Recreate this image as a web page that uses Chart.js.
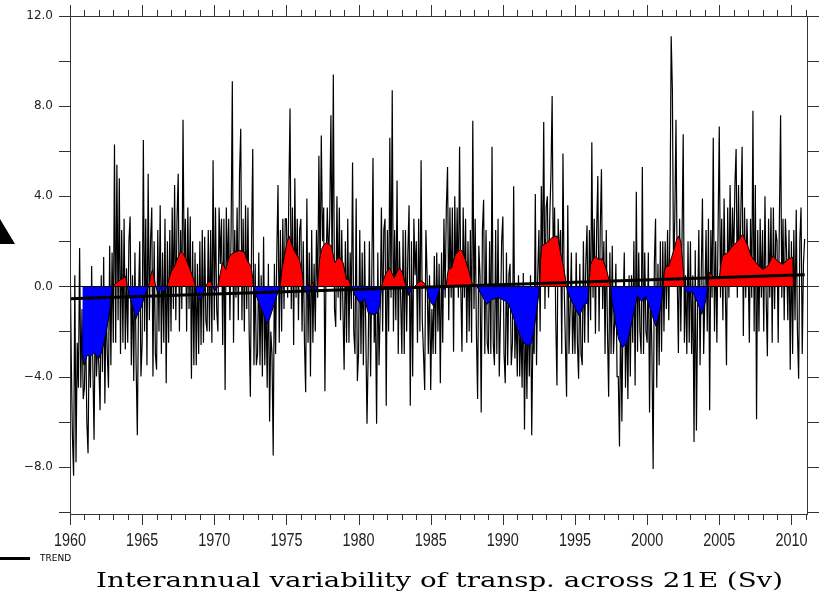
<!DOCTYPE html>
<html>
<head>
<meta charset="utf-8">
<script src="https://cdn.jsdelivr.net/npm/chart.js@4.4.0/dist/chart.umd.min.js"></script>
<style>
  html, body { margin: 0; padding: 0; background: #fff; }
  #wrap { width: 836px; height: 596px; }
</style>
</head>
<body>
<div id="wrap"><canvas id="chart" width="836" height="596"></canvas></div>
<script>
// monthly transport anomaly (Sv), Jan 1960 .. Dec 2010
const startYear = 1960;
const transport = [
  2.0, -3.0, -6.6, -8.4, 0.5, -7.8, -2.5, -4.5, 1.7, -4.5, -1.0, -5.0,
  -4.5, -1.5, -6.0, -7.4, -2.0, -4.5, 0.9, -3.5, -6.8, -1.0, -4.0, -2.5,
  -3.5, -5.5, 0.5, -3.8, 1.3, -5.2, -0.5, -3.0, -4.5, 1.8, -3.5, 1.5,
  -2.5, 6.3, -2.5, 5.4, -1.5, 4.8, -3.0, 2.5, -2.5, 3.0, -2.8, 0.8,
  -2.5, 2.0, 3.1, -3.5, 0.5, -4.2, 1.5, -3.5, -6.6, -0.5, 2.0, -4.0,
  -2.5, 6.5, -2.0, 3.0, -3.5, 5.0, -1.5, 2.0, 3.5, -4.0, 2.0, -3.0,
  -3.7, 2.5, -2.0, 3.6, -3.0, 1.5, -2.5, 3.0, -4.3, 2.0, -2.5, 2.5,
  -2.0, 3.5, -1.0, 4.5, -1.5, 3.0, 5.0, -2.0, 2.5, -1.0, 7.4, 0.5,
  3.0, -2.0, 3.5, -1.0, 3.1, -4.1, 2.0, -3.5, 1.5, -3.5, 1.0, -3.0,
  2.0, -2.6, 2.5, -2.5, 2.2, -1.5, -2.0, 2.5, -2.0, 2.5, -2.5, 5.6,
  -1.5, 3.5, -1.0, -2.0, 3.5, 1.0, 3.0, -2.6, 3.0, -4.6, 3.5, 0.5,
  3.0, -1.5, 2.5, 9.1, -2.5, 2.5, -0.5, 3.5, -1.5, 5.0, 7.0, -1.5,
  3.0, -2.0, 3.6, -1.0, 3.5, -2.0, -4.9, 2.0, 6.1, -3.5, 1.0, -3.5,
  -3.0, 1.5, -3.5, 0.5, -4.0, 2.2, -3.5, -0.5, -4.5, 1.0, -6.0, -2.0,
  -3.0, -7.5, 1.0, -3.0, 1.5, 4.5, -2.5, 2.5, -2.0, 3.0, -1.0, 3.0,
  3.0, -0.5, 4.0, 7.9, -1.0, 3.5, -2.6, 4.8, -0.5, 3.0, -1.5, 2.5,
  3.0, -2.0, 2.0, -2.5, -4.7, 3.9, -2.5, 1.5, -4.0, 2.5, -2.5, 1.0,
  -2.0, 2.5, -0.5, 5.8, 0.5, 6.7, 2.0, 3.5, -4.65, 1.0, 3.5, 1.0,
  3.0, 7.6, 0.5, 9.4, -1.0, -1.8, 4.0, -0.5, 3.5, -1.5, 2.5, -1.0,
  -3.7, 2.0, -2.5, 3.0, -2.5, 1.5, -1.0, 5.5, -2.0, -3.0, 3.9, -4.2,
  -3.0, 2.5, -3.0, 1.5, -3.5, 2.0, -2.0, -6.1, -3.0, 2.0, -4.0, 0.5,
  5.7, -2.5, -1.0, -6.1, 1.5, -3.5, -1.0, 3.5, -2.0, 2.5, 3.0, -5.3,
  2.5, -2.0, 6.6, -0.5, 8.7, -2.0, 2.5, -1.5, 4.7, -3.0, 2.0, -0.5,
  -3.0, 2.5, -3.0, 2.5, -2.0, 1.5, 3.6, -5.3, 2.0, -4.0, 3.0, 0.5,
  2.0, -2.5, 3.0, -2.0, 5.6, -1.5, -3.0, -4.6, 2.5, 0.5, -3.0, 0.5,
  -4.6, -1.0, -3.0, 1.35, -3.0, 1.5, -2.0, 1.0, -4.3, 1.5, -2.5, 3.0,
  -0.5, 3.5, 5.3, -1.5, 3.5, -0.5, 3.5, -2.9, 4.0, 0.0, 3.5, -0.5,
  6.2, 0.0, -2.9, 3.5, -0.5, 3.0, -2.5, 2.0, -2.0, 2.5, -2.5, 7.35,
  -1.0, 3.0, -2.0, -5.0, 1.8, 0.5, -5.6, 2.5, 3.85, -3.0, 2.5, -2.5,
  -3.0, 2.0, -3.0, 6.2, -2.5, -3.5, 2.5, -3.0, 3.0, -4.0, -1.5, 2.0,
  3.1, -3.0, -4.3, 1.5, -3.5, 0.5, 1.0, -3.5, -2.5, 4.45, -3.2, -1.0,
  -4.0, 0.5, -4.0, -1.5, -4.5, 0.6, -6.35, -1.0, -5.0, -0.5, -4.0, 0.5,
  -6.6, -2.0, -3.0, 4.1, -3.5, 0.5, 2.5, -2.0, 4.45, 1.0, 7.3, -1.0,
  3.5, 4.0, -0.5, 3.0, 5.0, 8.45, 0.5, 3.5, -1.5, -4.4, 3.0, 1.0,
  2.5, -3.0, 5.9, 0.0, -2.5, -4.9, 3.6, -3.0, -1.0, 1.5, -3.0, -0.5,
  -3.0, 1.5, -2.5, -4.1, 1.0, -3.0, -3.5, 2.0, -2.5, 1.0, 2.7, -2.5,
  2.5, -1.5, 6.4, -0.5, 3.0, -2.1, 2.5, 4.9, -2.0, 2.5, 5.2, -1.0,
  2.0, -3.0, 2.5, -2.0, -4.9, 1.5, -3.0, 1.8, -3.0, -1.5, 1.0, -4.0,
  -4.0, -7.1, -1.0, -6.0, -1.0, 1.5, -4.5, -1.0, -5.0, 0.5, -4.0, 0.5,
  -2.5, 2.0, -4.4, 4.2, -2.9, 1.5, -2.0, -3.0, 5.3, -3.0, 1.5, -2.0,
  -2.5, 1.5, -5.6, 0.0, -3.0, -8.1, 1.0, 3.0, -4.5, 1.0, -3.5, 2.0,
  -2.9, 2.0, -2.0, 2.0, -1.0, 2.5, -1.5, 3.0, 11.1, 8.7, 0.5, 3.0,
  7.4, 0.5, -2.95, 3.0, -2.0, 2.0, 6.75, -2.5, 0.5, -3.0, 2.0, -2.5,
  2.0, -3.0, 0.5, -6.9, 1.6, -6.4, -1.0, 2.5, -3.5, 0.5, 3.9, -3.0,
  -0.5, 2.5, -2.0, 3.0, -5.5, 2.5, -0.5, 6.6, -2.0, 2.0, -2.5, 2.5,
  7.1, -0.5, 3.0, -1.5, 3.9, 0.0, -3.5, 3.5, -0.5, 4.5, 0.0, 3.5,
  1.0, 4.5, 6.1, -0.5, 4.5, 0.0, 3.5, 6.2, -2.2, 3.5, -0.5, 3.0,
  1.0, -2.5, 3.0, -0.5, 7.8, -2.0, 4.5, -5.9, 2.5, -2.0, 3.0, -0.5,
  2.5, -2.0, 4.0, -0.5, -3.1, 3.0, -0.5, 3.5, -2.5, 3.5, -1.0, 2.5,
  2.0, -2.5, 3.0, 7.6, -0.5, 3.0, -1.5, 3.0, 1.5, -1.5, 2.5, -3.7,
  2.0, -3.0, 2.5, -1.5, 3.4, -2.0, -4.1, 2.0, 3.5, -3.0, 1.0, 2.1
];

// low-pass filtered curve, read at its turning points
const smoothYears = [
  1960.85, 1960.97, 1961.2, 1961.4, 1961.66, 1962.0, 1962.2, 1962.36, 1962.55, 1962.7, 1962.85, 1962.93,
  1963.2, 1963.5, 1963.7, 1963.86, 1963.97,
  1964.2, 1964.4, 1964.55, 1964.7, 1964.9, 1965.24, 1965.45,
  1965.6, 1965.72, 1965.85, 1965.94,
  1966.1, 1966.25, 1966.5, 1966.7,
  1966.85, 1966.98, 1967.3, 1967.5, 1967.67, 1967.85, 1968.0, 1968.3, 1968.55, 1968.69,
  1968.8, 1968.97, 1969.2, 1969.38,
  1969.6, 1969.75, 1969.88,
  1970.05, 1970.25,
  1970.45, 1970.58, 1970.8, 1971.05, 1971.4, 1971.6, 1971.74, 1972.09, 1972.3, 1972.55, 1972.68, 1972.71,
  1972.9, 1973.25, 1973.45, 1973.63, 1973.8, 1974.05, 1974.4, 1974.56,
  1974.7, 1974.86, 1975.05, 1975.2, 1975.35, 1975.55, 1975.9, 1976.13, 1976.18,
  1976.35, 1976.5, 1976.65, 1976.72, 1976.82, 1976.88, 1976.98, 1977.1, 1977.15,
  1977.3, 1977.43, 1977.6, 1977.77, 1978.12, 1978.35, 1978.55, 1978.7, 1978.93, 1979.1, 1979.16, 1979.3, 1979.46,
  1979.6, 1979.74, 1980.08, 1980.43, 1980.67, 1981.0, 1981.36, 1981.5, 1981.59,
  1981.7, 1981.9, 1982.16, 1982.3, 1982.47, 1982.7, 1982.86, 1983.05, 1983.2, 1983.32,
  1983.45, 1983.65, 1983.9,
  1984.1, 1984.35, 1984.55, 1984.7,
  1984.85, 1985.05, 1985.2, 1985.45, 1985.66,
  1985.8, 1986.0, 1986.07,
  1986.15, 1986.23, 1986.46, 1986.7, 1987.05, 1987.2, 1987.39, 1987.6, 1987.74, 1987.92,
  1988.0, 1988.1, 1988.2,
  1988.54, 1988.89, 1989.24, 1989.7, 1990.17, 1990.4, 1990.62, 1990.85, 1991.09, 1991.44, 1991.78, 1992.0, 1992.13, 1992.36, 1992.5, 1992.55,
  1992.62, 1992.7, 1993.05, 1993.4, 1993.74, 1993.85, 1993.95, 1994.2, 1994.35, 1994.4,
  1994.6, 1994.95, 1995.3, 1995.5, 1995.65, 1995.88, 1995.96,
  1996.08, 1996.25, 1996.43, 1996.65, 1996.9, 1997.1, 1997.24, 1997.47,
  1997.55, 1997.7, 1997.85, 1998.04, 1998.28, 1998.45, 1998.63, 1998.97, 1999.32, 1999.62, 1999.9, 2000.24, 2000.45, 2000.6, 2000.8, 2000.94, 2001.05, 2001.1,
  2001.2, 2001.3, 2001.5, 2001.7, 2001.86, 2002.05, 2002.2, 2002.35, 2002.5, 2002.58,
  2002.65, 2002.81, 2003.16, 2003.5, 2003.78, 2003.95, 2004.08, 2004.2,
  2004.3, 2004.66, 2005.0, 2005.12, 2005.23, 2005.58, 2005.93, 2006.28, 2006.62, 2006.97, 2007.2, 2007.55, 2008.0, 2008.36, 2008.7, 2009.05, 2009.4, 2009.75, 2010.1, 2010.14
];
const smoothVals = [
  -3.0, -3.5, -3.05, -3.1, -2.95, -3.2, -2.9, -2.5, -1.9, -1.3, -0.5, 0.0,
  0.15, 0.3, 0.35, 0.46, 0.0,
  -0.6, -1.0, -1.47, -1.2, -1.0, -0.3, 0.0,
  0.5, 0.75, 0.3, 0.0,
  -0.3, -0.1, -0.25, -0.05,
  0.3, 0.6, 0.98, 1.3, 1.57, 1.45, 1.28, 0.8, 0.35, 0.0,
  -0.4, -0.58, -0.4, 0.0,
  0.2, 0.24, 0.0,
  -0.2, 0.0,
  0.7, 1.05, 0.75, 1.35, 1.52, 1.55, 1.6, 1.52, 1.12, 0.9, 0.3, 0.0,
  -0.4, -1.0, -1.3, -1.68, -1.5, -1.0, -0.27, 0.0,
  0.8, 1.35, 2.0, 2.24, 1.9, 1.58, 1.2, 0.46, 0.0,
  -0.2, -0.5, -0.1, 0.1, 0.2, 0.0, -0.2, -0.1, 0.0,
  1.2, 1.64, 1.85, 1.94, 1.8, 1.05, 1.25, 1.28, 1.05, 0.5, 0.3, 0.35, 0.0,
  -0.15, -0.4, -0.73, -0.58, -1.17, -1.25, -1.17, -0.7, 0.0,
  0.25, 0.6, 0.83, 0.6, 0.38, 0.7, 0.8, 0.6, 0.18, 0.0,
  -0.4, -0.15, 0.0,
  0.15, 0.25, 0.15, 0.0,
  -0.5, -0.75, -0.87, -0.5, 0.0,
  -0.15, -0.1, 0.0,
  0.5, 0.75, 0.83, 1.42, 1.64, 1.55, 1.2, 0.8, 0.46, 0.0,
  0.12, 0.05, 0.0,
  -0.4, -0.8, -0.58, -0.5, -0.65, -0.8, -1.17, -1.6, -2.06, -2.5, -2.65, -2.5, -2.06, -1.0, -0.3, 0.0,
  1.2, 1.8, 1.94, 2.16, 2.24, 2.1, 1.64, 0.9, 0.3, 0.0,
  -0.43, -0.88, -1.32, -1.0, -0.8, -0.73, 0.0,
  0.98, 1.2, 1.32, 1.2, 1.23, 0.9, 0.6, 0.0,
  -0.6, -1.17, -1.8, -2.36, -2.73, -2.6, -2.5, -1.47, -0.43, -0.67, -0.45, -1.03, -1.5, -1.76, -1.3, -0.88, -0.4, 0.0,
  0.7, 0.9, 0.9, 1.3, 1.64, 2.1, 2.24, 1.94, 0.8, 0.0,
  -0.2, -0.27, -0.25, -0.73, -1.24, -0.9, -0.58, 0.0,
  0.62, 0.4, 0.33, 1.0, 1.36, 1.5, 1.8, 2.0, 2.32, 1.8, 1.36, 1.05, 0.75, 0.9, 1.36, 1.12, 0.98, 1.2, 1.3, 0.0
];

const trendYears = [1960.0, 2010.92];
const trendVals = [-0.55, 0.52];

const yTickVals = [-10, -8, -6, -4, -2, 0, 2, 4, 6, 8, 10, 12];
const yLabelVals = [12, 8, 4, 0, -4, -8];
const xLabelYears = [1960, 1965, 1970, 1975, 1980, 1985, 1990, 1995, 2000, 2005, 2010];
const titleText = 'Interannual variability of transp. across 21E (Sv)';
const legendText = 'TREND';

const rawPoints = transport.map((v, i) => ({ x: startYear + i / 12, y: v }));
const smoothPoints = smoothYears.map((t, i) => ({ x: t, y: smoothVals[i] }));
const trendPoints = trendYears.map((t, i) => ({ x: t, y: trendVals[i] }));

const frame = {
    id: 'frame',
    afterDatasetsDraw(chart) {
        const { ctx, chartArea: a, scales: { x, y } } = chart;
        ctx.save();
        ctx.lineWidth = 1;

        // zero line, runs out over both tick rows
        const y0 = Math.round(y.getPixelForValue(0)) + 0.5;
        ctx.strokeStyle = '#000';
        ctx.beginPath();
        ctx.moveTo(a.left - 11, y0);
        ctx.lineTo(a.right + 12, y0);
        ctx.stroke();

        ctx.strokeStyle = '#333';
        ctx.strokeRect(a.left + 0.5, a.top + 0.5, a.right - a.left, a.bottom - a.top);

        ctx.beginPath();
        yTickVals.forEach(v => {
            const py = Math.round(y.getPixelForValue(v)) + 0.5;
            ctx.moveTo(a.left - 11, py); ctx.lineTo(a.left, py);
            ctx.moveTo(a.right, py); ctx.lineTo(a.right + 12, py);
        });
        for (let yr = 1960; yr <= 2011; yr++) {
            const px = Math.round(x.getPixelForValue(yr)) + 0.5;
            const len = yr % 5 === 0 ? 11 : 6;
            ctx.moveTo(px, a.bottom); ctx.lineTo(px, a.bottom + len);
            ctx.moveTo(px, a.top); ctx.lineTo(px, a.top - len);
        }
        ctx.stroke();

        ctx.fillStyle = '#222';
        ctx.font = '12px "DejaVu Sans"';
        ctx.textAlign = 'right';
        ctx.textBaseline = 'middle';
        yLabelVals.forEach(v => {
            const txt = v.toFixed(1).replace('-', '\u2212');
            ctx.fillText(txt, a.left - 17, y.getPixelForValue(v));
        });

        ctx.font = '18px "Liberation Sans"';
        ctx.textAlign = 'center';
        xLabelYears.forEach(yr => {
            ctx.save();
            ctx.translate(x.getPixelForValue(yr), 541);
            ctx.scale(0.8, 1);
            ctx.fillText(String(yr), 0, 0);
            ctx.restore();
        });

        // legend for the trend line
        ctx.strokeStyle = '#000';
        ctx.lineWidth = 3;
        ctx.beginPath();
        ctx.moveTo(0, 558.5); ctx.lineTo(30, 558.5);
        ctx.stroke();
        ctx.fillStyle = '#000';
        ctx.font = '9px "DejaVu Sans"';
        ctx.textAlign = 'left';
        ctx.fillText(legendText, 40, 559);

        // wide serif caption, stretched to the width it has in the figure
        ctx.font = '20px "DejaVu Serif"';
        ctx.textBaseline = 'alphabetic';
        const w = ctx.measureText(titleText).width;
        ctx.save();
        ctx.translate(96, 587);
        ctx.scale(687 / w, 1);
        ctx.fillText(titleText, 0, 0);
        ctx.restore();

        // arrow tip left over from the neighbouring panel
        ctx.beginPath();
        ctx.moveTo(0, 219); ctx.lineTo(15, 244); ctx.lineTo(0, 244);
        ctx.closePath();
        ctx.fill();

        ctx.restore();
    }
};

new Chart(document.getElementById('chart'), {
    type: 'line',
    data: {
        datasets: [
            {
                label: 'monthly',
                data: rawPoints,
                borderColor: '#000',
                borderWidth: 1.2,
                fill: false,
                order: 3
            },
            {
                label: 'filtered',
                data: smoothPoints,
                borderColor: '#000',
                borderWidth: 1,
                fill: { target: { value: 0 }, above: '#ff0000', below: '#0000ff' },
                order: 2
            },
            {
                label: legendText,
                data: trendPoints,
                borderColor: '#000',
                borderWidth: 3,
                fill: false,
                order: 1
            }
        ]
    },
    options: {
        responsive: false,
        animation: false,
        layout: { padding: { left: 70, right: 29, top: 16, bottom: 82 } },
        elements: { point: { radius: 0 }, line: { tension: 0 } },
        plugins: { legend: { display: false }, tooltip: { enabled: false } },
        scales: {
            x: { type: 'linear', min: 1960, max: 2011.08, display: false },
            y: { min: -10.1, max: 12, display: false }
        }
    },
    plugins: [frame]
});
</script>
</body>
</html>
